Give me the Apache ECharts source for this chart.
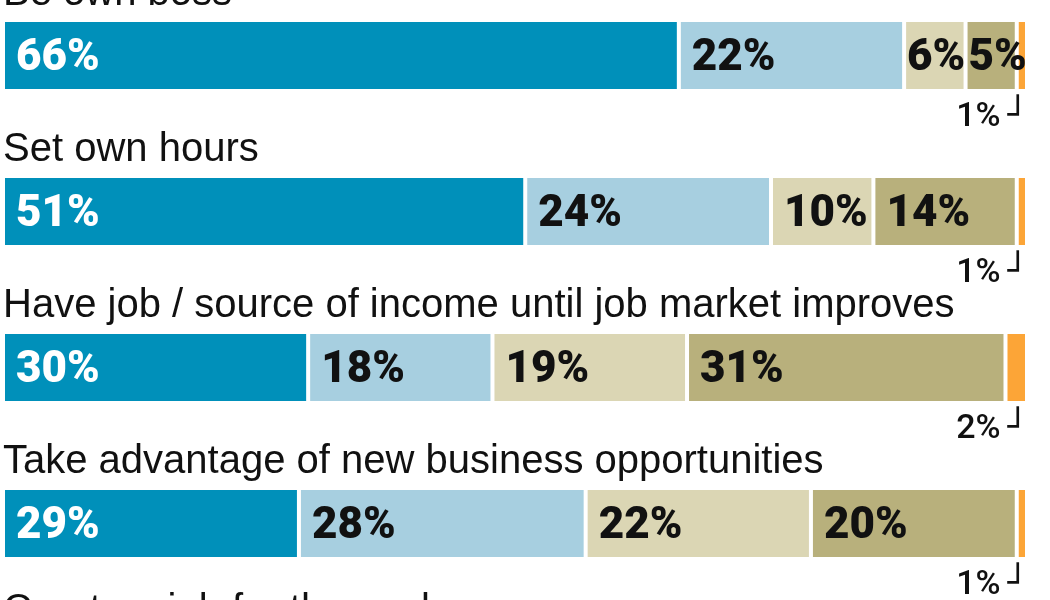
<!DOCTYPE html>
<html>
<head>
<meta charset="utf-8">
<script src="https://cdn.jsdelivr.net/npm/echarts@6/dist/echarts.min.js"></script>
<style>
html,body{margin:0;padding:0;background:#fff;}
#c{width:1050px;height:600px;}
</style>
</head>
<body>
<div id="c"></div>
<script>
var categories = [
  'Be own boss',
  'Set own hours',
  'Have job / source of income until job market improves',
  'Take advantage of new business opportunities',
  'Create a job for themselves'
];
var seriesNames = ['Very important', 'Somewhat important', 'Not very important', 'Not at all important', "Don't know"];
var veryImportant     = [66, 51, 29.8, 28.9, '-'];
var somewhatImportant = [22, 24, 18,   28,   '-'];
var notVeryImportant  = [6,  10, 19,   22,   '-'];
var notAtAllImportant = [5,  14, 31.1, 20.1, '-'];
var dontKnow          = [1,  1,  2.1,  1,    '-'];

var colors = ['#0090ba', '#a7cfe0', '#dbd6b4', '#b8b07c', '#fca537'];
var values = [veryImportant, somewhatImportant, notVeryImportant, notAtAllImportant, dontKnow];

function pct(v){ return Math.round(v) + '%'; }

var series = values.map(function(arr, i){
  var last = i === values.length - 1;
  return {
    name: seriesNames[i],
    type: 'bar',
    stack: 'total',
    barWidth: 71,
    data: arr.map(function(v){
      if (v === '-' || last) return v;
      return { value: v, label: { distance: v < 8 ? 3 : 13 } };
    }),
    itemStyle: { color: colors[i], borderColor: '#ffffff', borderWidth: 2 },
    label: last ? {
      show: true,
      position: ['100%', '100%'],
      align: 'right',
      verticalAlign: 'middle',
      offset: [1, 26],
      formatter: function(p){ return '{p|' + pct(p.value) + '}{c|\u2518}'; },
      rich: {
        p: { fontFamily: 'Roboto, sans-serif', fontWeight: 500, fontSize: 34, color: '#111', lineHeight: 40 },
        c: { fontFamily: 'DejaVu Sans', fontSize: 34, color: '#111', padding: [0, 0, 0, 7], lineHeight: 40 }
      }
    } : {
      show: true,
      position: 'insideLeft',
      offset: [0, 3],
      formatter: function(p){ return pct(p.value); },
      fontFamily: 'Roboto, sans-serif',
      fontWeight: 900,
      fontSize: 44,
      color: i === 0 ? '#ffffff' : '#111111'
    }
  };
});

var chart = echarts.init(document.getElementById('c'), null, { renderer: 'canvas' });
chart.setOption({
  animation: false,
  backgroundColor: '#ffffff',
  grid: { left: 3, width: 1024, top: -22.5, height: 780, containLabel: false, outerBoundsMode: 'none' },
  xAxis: { type: 'value', min: 0, max: 100, show: false },
  yAxis: {
    type: 'category',
    inverse: true,
    data: categories,
    axisLine: { show: false },
    axisTick: { show: false },
    splitLine: { show: false },
    axisLabel: {
      inside: true,
      margin: 0,
      align: 'left',
      verticalAlign: 'bottom',
      lineHeight: 40,
      padding: [0, 0, 42, 0],
      fontFamily: 'Liberation Sans, Arial, sans-serif',
      fontSize: 40,
      color: '#111111',
      formatter: function(v, idx){
        return idx === categories.length - 1 ? '{up|' + v + '}' : v;
      },
      rich: {
        up: { fontFamily: 'Liberation Sans, Arial, sans-serif', fontSize: 40, color: '#111111', lineHeight: 40, padding: [0, 0, 14, 0] }
      }
    }
  },
  series: series
});
</script>
</body>
</html>
